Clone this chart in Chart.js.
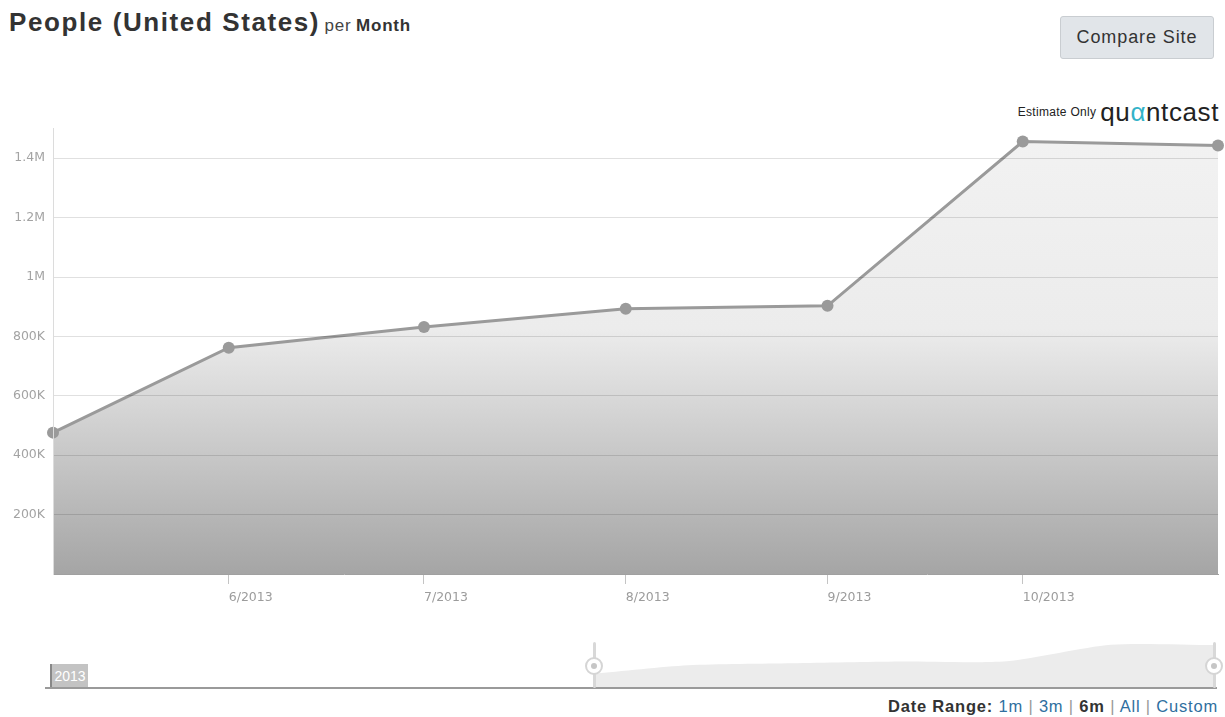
<!DOCTYPE html>
<html>
<head>
<meta charset="utf-8">
<title>People (United States) per Month</title>
<script src="https://cdn.jsdelivr.net/npm/chart.js@4/dist/chart.umd.min.js"></script>
<style>
  html, body { margin: 0; padding: 0; background: #fff; }
  body { width: 1225px; height: 717px; position: relative; overflow: hidden;
         font-family: Arial, "Liberation Sans", sans-serif; color: #333; }
  #title { position: absolute; left: 9px; top: 7px; white-space: nowrap; }
  #title .main { font-size: 26px; font-weight: bold; color: #333; letter-spacing: 1.6px; }
  #title .per { font-size: 17px; color: #444; letter-spacing: 0.8px; }
  #title .unit { font-size: 17px; font-weight: bold; color: #333; letter-spacing: 0.8px; }
  #compare { position: absolute; left: 1060px; top: 16px; width: 154px; height: 43px;
             box-sizing: border-box; background: #e1e5e9; border: 1px solid #c9cdd1;
             border-radius: 3px; font-size: 18px; color: #333; text-align: center; line-height: 41px;
             letter-spacing: 0.9px; }
  #brand { position: absolute; right: 6px; top: 97px; white-space: nowrap; }
  #brand .est { font-size: 12px; color: #222; vertical-align: 5px; margin-right: 4px; letter-spacing: 0.3px; }
  #brand .logo { font-size: 26px; color: #222; letter-spacing: 0.6px; }
  #brand .logo b { font-weight: normal; color: #33b3c9; }
  #main-wrap { position: absolute; left: 0; top: 113px; width: 1225px; height: 507px; }
  #nav-wrap { position: absolute; left: 0; top: 636px; width: 1225px; height: 52px; }
  #nav-base { position: absolute; left: 45px; top: 687px; width: 1172px; height: 0;
              border-top: 2px solid #9a9a9a; }
  #nav-year { position: absolute; left: 50px; top: 664px; width: 38px; height: 23px;
              background: #c3c3c3; color: #fff; font-size: 14px; line-height: 25px; text-align: center;
              border-left: 2px solid #888; box-sizing: border-box; }
  .handle { position: absolute; top: 642px; width: 16px; height: 46px; }
  .handle .bar { position: absolute; left: 7px; top: 0; width: 3px; height: 46px; background: #d8d8d8; border-radius: 2px; }
  .handle .knob { position: absolute; top: 15px; left: -1px; width: 14px; height: 14px; border-radius: 50%;
                  background: #fff; border: 2px solid #d5d5d5; }
  .handle .knob i { position: absolute; left: 4px; top: 4px; width: 6px; height: 6px; border-radius: 50%; background: #c6c6c6; }
  #range { position: absolute; right: 7px; top: 697px; font-size: 16.5px; white-space: nowrap; color: #333; letter-spacing: 0.8px; }
  #range b { font-weight: bold; color: #333; }
  #range a { color: #2f6f9f; text-decoration: none; }
  #range .sep { color: #999; }
</style>
</head>
<body>
<div id="title"><span class="main">People (United States)</span> <span class="per">per</span> <span class="unit">Month</span></div>
<div id="compare">Compare Site</div>
<div id="brand"><span class="est">Estimate Only</span><span class="logo">qu<b>α</b>ntcast</span></div>

<div id="main-wrap"><canvas id="main-chart"></canvas></div>
<div id="nav-wrap"><canvas id="nav-chart"></canvas></div>
<div id="nav-base"></div>
<div id="nav-year">2013</div>
<div class="handle" style="left:586px"><div class="bar"></div><div class="knob"><i></i></div></div>
<div class="handle" style="left:1206px"><div class="bar"></div><div class="knob"><i></i></div></div>
<div id="range"><b>Date Range:</b> <a>1m</a> <span class="sep">|</span> <a>3m</a> <span class="sep">|</span> <b>6m</b> <span class="sep">|</span> <a>All</a> <span class="sep">|</span> <a>Custom</a></div>

<script>
// days counted from 1 June 2013
const pointDays = [-27, 0, 30, 61, 92, 122, 152];
const people = [476000, 762000, 832000, 893000, 903000, 1456000, 1443000];

const monthTicks = [0, 30, 61, 92, 122];
const monthLabels = ['6/2013', '7/2013', '8/2013', '9/2013', '10/2013'];

const yTicks = [200000, 400000, 600000, 800000, 1000000, 1200000, 1400000];
const yLabels = ['200K', '400K', '600K', '800K', '1M', '1.2M', '1.4M'];

const series = pointDays.map((d, i) => ({ x: d, y: people[i] }));

function areaGradient(context) {
  const area = context.chart.chartArea;
  if (!area) return '#ddd';
  const g = context.chart.ctx.createLinearGradient(0, area.top, 0, area.bottom);
  g.addColorStop(0, '#f2f2f2');
  g.addColorStop(0.45, '#ececec');
  g.addColorStop(1, '#a5a5a5');
  return g;
}

const tickFont = 'DejaVu Sans, Arial, sans-serif';

new Chart(document.getElementById('main-chart'), {
  type: 'line',
  data: {
    datasets: [{
      data: series,
      borderColor: '#9a9a9a',
      borderWidth: 3,
      backgroundColor: areaGradient,
      fill: 'origin',
      tension: 0,
      pointRadius: 6,
      pointBackgroundColor: '#9a9a9a',
      pointBorderWidth: 0,
      clip: false
    }]
  },
  options: {
    responsive: true,
    maintainAspectRatio: false,
    animation: false,
    layout: { padding: { top: 0, right: 7, left: 0, bottom: 0 } },
    plugins: { legend: { display: false }, tooltip: { enabled: false } },
    scales: {
      x: {
        type: 'linear',
        min: -27,
        max: 152,
        afterFit: s => { s.height = 46; },
        afterBuildTicks: s => { s.ticks = monthTicks.map(v => ({ value: v })); },
        border: { display: true, color: '#a0a0a0', width: 1, z: 1 },
        grid: { drawOnChartArea: false, drawTicks: true, tickLength: 10, color: '#c4c4c4' },
        ticks: {
          align: 'start',
          padding: 6,
          color: '#9c9c9c',
          font: { family: tickFont, size: 12.5 },
          callback: v => monthLabels[monthTicks.indexOf(v)] ?? ''
        }
      },
      y: {
        min: 0,
        max: 1500000,
        afterFit: s => { s.width = 53; },
        afterBuildTicks: s => { s.ticks = yTicks.map(v => ({ value: v })); },
        // gridlines sit above the shaded area
        border: { display: true, color: '#dcdcdc', width: 1, z: 1 },
        grid: { z: 1, color: 'rgba(0,0,0,0.12)', drawTicks: false, lineWidth: 1 },
        ticks: {
          padding: 8,
          color: '#a3a3a3',
          font: { family: tickFont, size: 12.5 },
          callback: v => yLabels[yTicks.indexOf(v)] ?? ''
        }
      }
    }
  }
});

// overview strip under the chart
new Chart(document.getElementById('nav-chart'), {
  type: 'line',
  data: {
    datasets: [{
      data: series,
      borderWidth: 0,
      backgroundColor: '#ececec',
      fill: 'origin',
      tension: 0.25,
      pointRadius: 0
    }]
  },
  options: {
    responsive: true,
    maintainAspectRatio: false,
    animation: false,
    layout: { padding: { left: 50, right: 10, top: 0, bottom: 0 } },
    plugins: { legend: { display: false }, tooltip: { enabled: false } },
    scales: {
      x: { type: 'linear', display: false, min: -184, max: 152 },
      y: { display: false, min: 0, max: 1750000 }
    }
  }
});
</script>
</body>
</html>
